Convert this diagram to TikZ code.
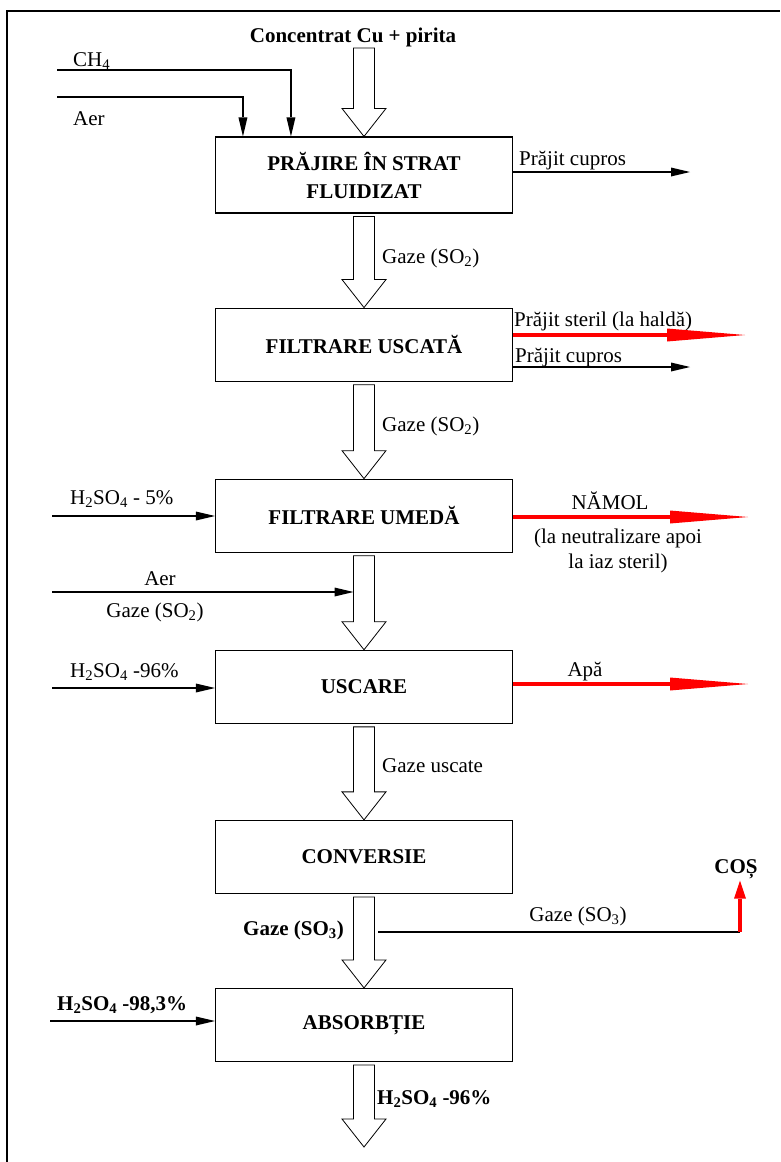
\documentclass[tikz,border=0pt]{standalone}
\usepackage{fontspec}
\setmainfont{Liberation Serif}
\usepackage{tikz}
\usetikzlibrary{arrows.meta,positioning,calc}

\tikzset{
  proc/.style={draw, rectangle, line width=1.1pt, minimum width=297pt, minimum height=73pt, align=center, font=\fontsize{21}{28}\selectfont\bfseries},
  lbl/.style={inner sep=0pt},
  boldlbl/.style={inner sep=0pt, font=\fontsize{21}{28}\selectfont\bfseries},
  flow/.style={line width=1.7pt, -{Triangle[length=19pt,width=9pt,line width=0pt]}},
  waste/.style={red, line width=4.5pt, -{Triangle[length=78pt,width=13pt,line width=0pt]}},
  hollow/.style={draw, line width=0.8pt, to path={let \p1=(\tikztostart), \p2=(\tikztotarget) in
    (\x1-10.5pt,\y1-3pt) -- (\x1+10.5pt,\y1-3pt) -- (\x1+10.5pt,\y2+28pt) -- (\x1+22pt,\y2+28pt)
    -- (\x1,\y2) -- (\x1-22pt,\y2+28pt) -- (\x1-10.5pt,\y2+28pt) -- cycle}}
}

\begin{document}
\begin{tikzpicture}[x=1pt, y=-1pt, node distance=94pt, font=\fontsize{21}{28}\selectfont]
\useasboundingbox (0,0) rectangle (780,1162);
\draw[line width=1.5pt] (7,1162) -- (7,11) -- (780,11);

% process blocks
\node[proc, minimum height=76pt] (praj) at (364,175) {PRĂJIRE ÎN STRAT\\FLUIDIZAT};
\node[proc, below=of praj] (fusc) {FILTRARE USCATĂ};
\node[proc, below=97pt of fusc] (fum) {FILTRARE UMEDĂ};
\node[proc, below=97pt of fum] (usc) {USCARE};
\node[proc, below=96pt of usc] (conv) {CONVERSIE};
\node[proc, below=of conv] (abs) {ABSORBȚIE};

% free ends
\coordinate (feed) at (364,45);
\coordinate (ch4) at (57,70);
\coordinate (aer) at (57,97);
\coordinate (cup1) at (690,172);
\coordinate (ster) at (745,335);
\coordinate (cup2) at (690,367);
\coordinate (acid5) at (52,516);
\coordinate (namol) at (748,517);
\coordinate (aer2) at (52,592);
\coordinate (mix) at (353.5,592);
\coordinate (acid96) at (52,688);
\coordinate (apa) at (748,684);
\coordinate (so3) at (378,932);
\coordinate (cosb) at (740,932);
\coordinate (acid98) at (50,1021);
\coordinate (prod) at (364,1147);

% labels
\node[boldlbl, anchor=base] (feedl) at (353,42) {Concentrat Cu + pirita};
\node[lbl, anchor=base west] (ch4l) at (73,66) {CH\textsubscript{4}};
\node[lbl, anchor=base west] (aerl) at (73,125) {Aer};
\node[lbl, anchor=base west] (cup1l) at (519,165) {Prăjit cupros};
\node[lbl, anchor=base west] (gaz1l) at (382,263) {Gaze (SO\textsubscript{2})};
\node[lbl, anchor=base west] (sterl) at (514,326) {Prăjit steril (la haldă)};
\node[lbl, anchor=base west] (cup2l) at (515,362) {Prăjit cupros};
\node[lbl, anchor=base west] (gaz2l) at (382,431) {Gaze (SO\textsubscript{2})};
\node[lbl, anchor=base west] (acid5l) at (70,504) {H\textsubscript{2}SO\textsubscript{4} - 5\%};
\node[lbl, anchor=base] (namoll) at (610,509) {NĂMOL};
\node[lbl, anchor=base] (neut1) at (618,543) {(la neutralizare apoi};
\node[lbl, anchor=base] (neut2) at (618,568) {la iaz steril)};
\node[lbl, anchor=base] (aer2l) at (160,585) {Aer};
\node[lbl, anchor=base] (gaz3l) at (155,617) {Gaze (SO\textsubscript{2})};
\node[lbl, anchor=base west] (acid96l) at (70,677) {H\textsubscript{2}SO\textsubscript{4} -96\%};
\node[lbl, anchor=base] (apal) at (585,676) {Apă};
\node[lbl, anchor=base west] (uscl) at (382,772) {Gaze uscate};
\node[boldlbl, anchor=base, inner sep=2pt] (cos) at (736,873) {COȘ};
\node[lbl, anchor=base] (so3r) at (578,921) {Gaze (SO\textsubscript{3})};
\node[boldlbl, anchor=base east] (so3l) at (344,935) {Gaze (SO\textsubscript{3})};
\node[boldlbl, anchor=base west] (acid98l) at (57,1010) {H\textsubscript{2}SO\textsubscript{4} -98,3\%};
\node[boldlbl, anchor=base west] (prodl) at (377,1104) {H\textsubscript{2}SO\textsubscript{4} -96\%};

% main gas line
\draw[hollow] (feed) to (praj.north);
\draw[hollow] (praj.south) to (fusc.north);
\draw[hollow] (fusc.south) to (fum.north);
\draw[hollow] (fum.south) to (usc.north);
\draw[hollow] (usc.south) to (conv.north);
\draw[hollow] (conv.south) to (abs.north);
\draw[hollow] (abs.south) to (prod);

% side streams
\draw[flow] (ch4) -| ([xshift=76pt]praj.north west);
\draw[flow] (aer) -| ([xshift=28pt]praj.north west);
\draw[flow] (praj.east |- cup1) -- (cup1);
\draw[waste] (fusc.east |- ster) -- (ster);
\draw[flow] (fusc.east |- cup2) -- (cup2);
\draw[flow] (acid5) -- (acid5 -| fum.west);
\draw[waste] (fum.east |- namol) -- (namol);
\draw[flow] (aer2) -- (mix);
\draw[flow] (acid96) -- (acid96 -| usc.west);
\draw[waste] (usc.east |- apa) -- (apa);
\draw[line width=1.7pt] (so3) -- (cosb);
\draw[red, line width=4pt, -{Triangle[length=18pt,width=12pt,line width=0pt]}] (cosb) -- (cosb |- cos.south);
\draw[flow] (acid98) -- (acid98 -| abs.west);
\end{tikzpicture}
\end{document}
